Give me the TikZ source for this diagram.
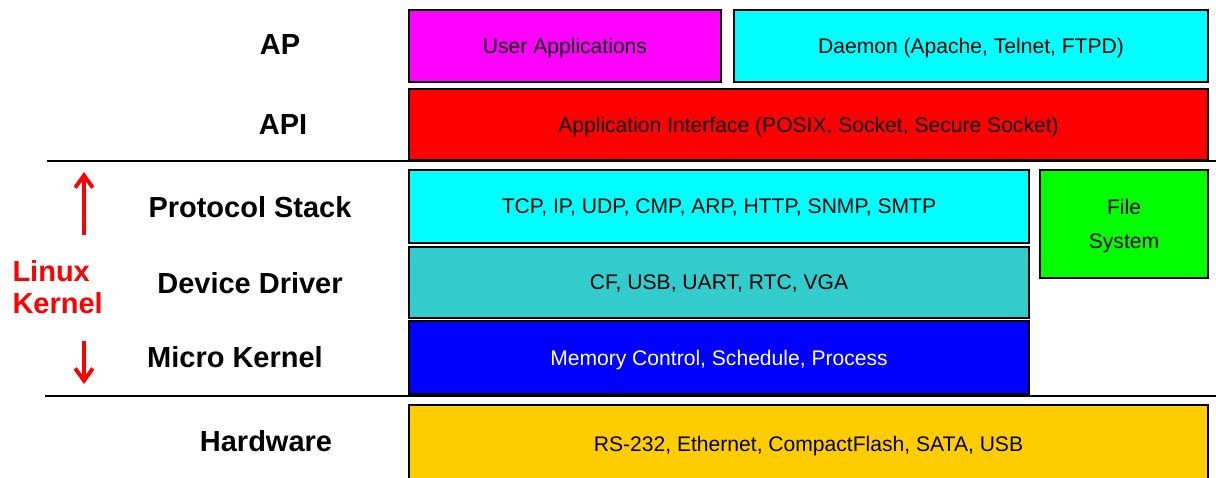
\documentclass[tikz,border=0pt]{standalone}
\usepackage{fontspec}
\setmainfont{Liberation Sans}
\usepackage{tikz}
\usetikzlibrary{arrows.meta, positioning}

\definecolor{magentabox}{HTML}{FF00FF}
\definecolor{cyanbox}{HTML}{00FFFF}
\definecolor{redbox}{HTML}{FF0000}
\definecolor{tealbox}{HTML}{33CCCC}
\definecolor{bluebox}{HTML}{0000FF}
\definecolor{greenbox}{HTML}{00FF00}
\definecolor{yellowbox}{HTML}{FFCC00}

\begin{document}
\begin{tikzpicture}[x=0.02cm,y=-0.02cm,semithick]
	\tikzset{layer/.style={draw=black, line width=1.1pt, inner sep=0pt, outer sep=0pt, align=center, text depth=0pt, font=\fontsize{12}{19.3}\selectfont},
		lname/.style={font=\bfseries\fontsize{16.5}{19}\selectfont},
		kernarrow/.style={red, line width=2.2pt, -{Straight Barb[length=7pt,width=10pt]}},
		sepline/.style={black, line width=1.2pt}}
	\useasboundingbox (0,0) rectangle (1216,477);
	% boxes
	\node[layer, fill=magentabox, minimum width=6.24cm, minimum height=1.44cm] (user) at (565,46) {User Applications};
	\node[layer, fill=cyanbox, minimum width=9.48cm, minimum height=1.44cm] (daemon) at (971,46) {Daemon (Apache, Telnet, FTPD)};
	\node[layer, fill=redbox, minimum width=15.98cm, minimum height=1.42cm] (api) at (808.5,124.5) {Application Interface (POSIX, Socket, Secure Socket)};
	\node[layer, fill=cyanbox, minimum width=12.4cm, minimum height=1.46cm] (proto) at (719,206.5) {TCP, IP, UDP, CMP, ARP, HTTP, SNMP, SMTP};
	\node[layer, fill=greenbox, minimum width=3.36cm, minimum height=2.16cm] (fs) at (1124,224) {File\\System};
	\node[layer, fill=tealbox, minimum width=12.4cm, minimum height=1.42cm] (drv) at (719,282.5) {CF, USB, UART, RTC, VGA};
	\node[layer, fill=bluebox, text=white, minimum width=12.4cm, minimum height=1.46cm] (mk) at (719,357.5) {Memory Control, Schedule, Process};
	\node[layer, fill=yellowbox, minimum width=15.98cm, minimum height=1.54cm] (hw) at (808.5,443.5) {RS-232, Ethernet, CompactFlash, SATA, USB};
	% layer names
	\node[lname] (ap) at (280,45) {AP};
	\node[lname] (apiname) at (283,125) {API};
	\node[lname] (protoname) at (250,207) {Protocol Stack};
	\node[lname] (drvname) at (250,283) {Device Driver};
	\node[lname] (mkname) at (235,357) {Micro Kernel};
	\node[lname] (hwname) at (266,441) {Hardware};
	\node[lname, text=red, align=left, anchor=west, inner sep=0pt, font=\bfseries\fontsize{16.5}{18}\selectfont] (linux) at (12,287) {Linux\\Kernel};
	% kernel borders
	\coordinate (topl) at (47,161);
	\coordinate (topr) at (1216,161);
	\coordinate (botl) at (45,396);
	\coordinate (botr) at (1216,396);
	\draw[sepline] (topl) -- (topr);
	\draw[sepline] (botl) -- (botr);
	\coordinate (upfrom) at (84,235);
	\coordinate (upto) at (84,172);
	\coordinate (downfrom) at (84,341);
	\coordinate (downto) at (84,384);
	\draw[kernarrow] (upfrom) -- (upto);
	\draw[kernarrow] (downfrom) -- (downto);
\end{tikzpicture}
\end{document}
